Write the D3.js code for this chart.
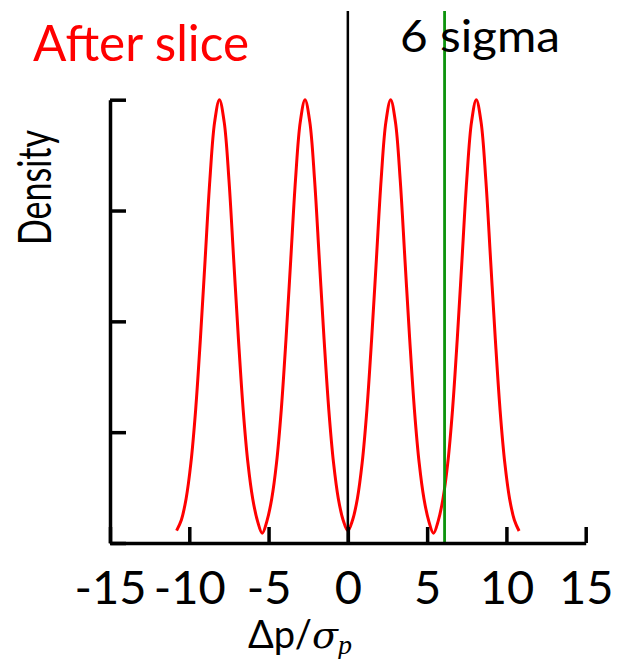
<!DOCTYPE html>
<html>
<head>
<meta charset="utf-8">
<script src="https://cdn.jsdelivr.net/npm/d3@7/dist/d3.min.js"></script>
<style>
  html, body { margin: 0; padding: 0; background: #fff; }
  svg { display: block; }
  text { font-family: Lato, "Open Sans", "DejaVu Sans", sans-serif; }
</style>
</head>
<body>
<svg id="chart" width="623" height="659"></svg>
<script>
// ---- data ----
const densityX = [
  -10.8, -10.5, -10.2, -9.9, -9.6, -9.3, -9.0, -8.7, -8.4, -8.1,
  -7.8, -7.5, -7.2, -6.9, -6.6, -6.3, -6.0, -5.7, -5.4,
  -5.1, -4.8, -4.5, -4.2, -3.9, -3.6, -3.3, -3.0, -2.7,
  -2.4, -2.1, -1.8, -1.5, -1.2, -0.9, -0.6, -0.3, 0.0,
  0.3, 0.6, 0.9, 1.2, 1.5, 1.8, 2.1, 2.4, 2.7,
  3.0, 3.3, 3.6, 3.9, 4.2, 4.5, 4.8, 5.1, 5.4,
  5.7, 6.0, 6.3, 6.6, 6.9, 7.2, 7.5, 7.8, 8.1,
  8.4, 8.7, 9.0, 9.3, 9.6, 9.9, 10.2, 10.5, 10.8
];
const densityY = [
  0.028, 0.052, 0.10, 0.18, 0.30, 0.46, 0.64, 0.82, 0.95, 1.00,
  0.95, 0.82, 0.64, 0.46, 0.30, 0.18, 0.10, 0.050, 0.022,
  0.050, 0.10, 0.18, 0.30, 0.46, 0.64, 0.82, 0.95, 1.00,
  0.95, 0.82, 0.64, 0.46, 0.30, 0.18, 0.10, 0.052, 0.028,
  0.052, 0.10, 0.18, 0.30, 0.46, 0.64, 0.82, 0.95, 1.00,
  0.95, 0.82, 0.64, 0.46, 0.30, 0.18, 0.10, 0.050, 0.022,
  0.050, 0.10, 0.18, 0.30, 0.46, 0.64, 0.82, 0.95, 1.00,
  0.95, 0.82, 0.64, 0.46, 0.30, 0.18, 0.10, 0.052, 0.027
];
const xTickValues = [-15, -10, -5, 0, 5, 10, 15];
const xTickLabels = ["-15", "-10", "-5", "0", "5", "10", "15"];
const yTickValues = [0, 0.25, 0.5, 0.75, 1.0];
const centerLineX = 0;
const sigmaLineX = 6.1;
const titleText = "After slice";
const sigmaText = "6 sigma";
const yLabelText = "Density";

// ---- layout ----
const svg = d3.select("#chart");
svg.append("rect").attr("width", 623).attr("height", 659).attr("fill", "#fff");

const x = d3.scaleLinear().domain([-15, 15]).range([110, 585.7]);
const y = d3.scaleLinear().domain([0, 1]).range([543, 99.7]);

// curve
const pts = densityX.map((d, i) => [d, densityY[i]]);
const line = d3.line().x(d => x(d[0])).y(d => y(d[1])).curve(d3.curveCatmullRom.alpha(0.5));
svg.append("path").datum(pts)
  .attr("d", line)
  .attr("fill", "none")
  .attr("stroke", "#ff0000")
  .attr("stroke-width", 3);

// vertical reference lines
svg.append("line")
  .attr("x1", x(centerLineX)).attr("x2", x(centerLineX))
  .attr("y1", 11).attr("y2", y(0))
  .attr("stroke", "#000").attr("stroke-width", 2.5);
svg.append("line")
  .attr("x1", x(sigmaLineX)).attr("x2", x(sigmaLineX))
  .attr("y1", 11).attr("y2", y(0))
  .attr("stroke", "#0c930c").attr("stroke-width", 2.8);

// axes
const xAxis = d3.axisBottom(x).tickValues(xTickValues)
  .tickSizeInner(-16).tickSizeOuter(0)
  .tickFormat((d, i) => xTickLabels[i]);
const gx = svg.append("g").attr("transform", `translate(0,${y(0)})`).call(xAxis);
gx.select(".domain").attr("stroke", "#000").attr("stroke-width", 3.5);
gx.selectAll(".tick line").attr("stroke", "#000").attr("stroke-width", 3.5);
gx.selectAll(".tick text")
  .attr("y", 61).attr("dy", 0)
  .attr("font-size", 47)
  .attr("fill", "#000")
  .style("font-family", "Lato, 'Open Sans', sans-serif");

const yAxis = d3.axisLeft(y).tickValues(yTickValues)
  .tickSizeInner(-16).tickSizeOuter(0).tickFormat("");
const gy = svg.append("g").attr("transform", `translate(${x(-15)},0)`).call(yAxis);
gy.select(".domain").attr("stroke", "#000").attr("stroke-width", 3.5);
gy.selectAll(".tick line").attr("stroke", "#000").attr("stroke-width", 3.5);

// texts
svg.append("text")
  .attr("x", 33).attr("y", 61)
  .attr("font-size", 50)
  .attr("fill", "#ff0000")
  .attr("textLength", 216).attr("lengthAdjust", "spacingAndGlyphs")
  .text(titleText);

svg.append("text")
  .attr("x", 400).attr("y", 52)
  .attr("font-size", 44)
  .attr("fill", "#000")
  .attr("textLength", 160).attr("lengthAdjust", "spacingAndGlyphs")
  .text(sigmaText);

svg.append("text")
  .attr("transform", "translate(51,245) rotate(-90)")
  .attr("x", 0).attr("y", 0)
  .attr("font-size", 46)
  .attr("fill", "#000")
  .attr("textLength", 115).attr("lengthAdjust", "spacingAndGlyphs")
  .text(yLabelText);

const xl = svg.append("text")
  .attr("x", 300).attr("y", 648)
  .attr("text-anchor", "middle")
  .attr("font-size", 38)
  .attr("fill", "#000");
xl.append("tspan").text("\u0394p/");
xl.append("tspan").style("font-family", "'DejaVu Serif', 'Liberation Serif', serif")
  .attr("font-style", "italic").text("\u03c3");
xl.append("tspan").style("font-family", "'Liberation Serif', 'DejaVu Serif', serif")
  .attr("font-style", "italic").attr("font-size", 28).attr("dy", 6).text("p");
</script>
</body>
</html>
